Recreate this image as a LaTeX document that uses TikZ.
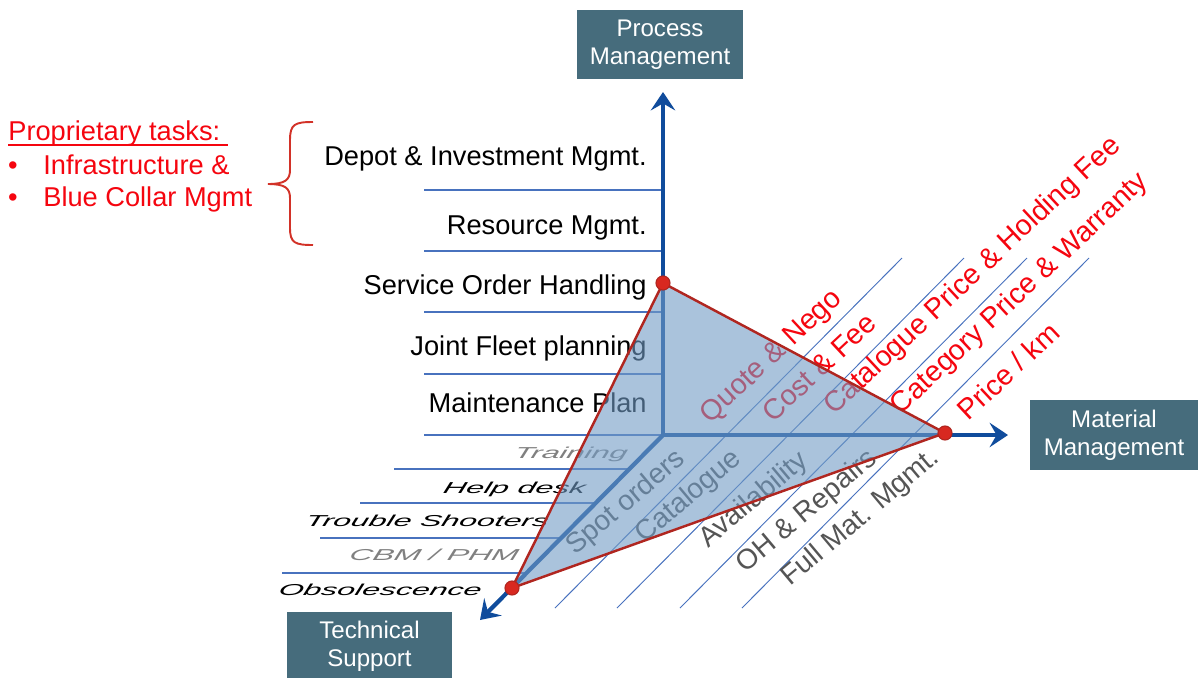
\documentclass[tikz,border=0pt]{standalone}
\usepackage{fontspec}
\setmainfont{Liberation Sans}
\usetikzlibrary{arrows.meta}
\definecolor{boxcol}{RGB}{70,108,124}
\definecolor{axisblue}{RGB}{16,76,156}
\definecolor{thinblue}{RGB}{72,114,190}
\definecolor{trifill}{RGB}{113,155,197}
\definecolor{edgered}{RGB}{176,38,32}
\definecolor{dotred}{RGB}{216,40,32}
\definecolor{txtred}{RGB}{245,5,15}
\definecolor{bracered}{RGB}{210,50,40}
\definecolor{txtgray}{RGB}{85,85,85}
\definecolor{lightgray}{RGB}{128,128,128}
\begin{document}
\begin{tikzpicture}[x=0.02cm,y=-0.02cm,
  axisbox/.style={fill=boxcol, text=white, font=\fontsize{13.7}{16}\selectfont, align=center, minimum width=3.32cm, minimum height=1.38cm, inner sep=0pt},
  lbl/.style={inner sep=0pt, font=\fontsize{15.5}{18}\selectfont},
  redrot/.style={inner sep=0pt, font=\fontsize{16.3}{18}\selectfont, text=txtred, rotate=43},
  grayrot/.style={inner sep=0pt, font=\fontsize{16}{18}\selectfont, text=txtgray, rotate=40},
  ital/.style={inner sep=0pt, font=\fontsize{9}{10}\selectfont\itshape, anchor=base east, xscale=2.02, xslant=0.12},
  gridline/.style={thinblue, line width=0.8pt},
  diagline/.style={thinblue, line width=0.55pt},
  axisline/.style={axisblue, line width=2.4pt, -{Stealth[length=10.5pt,width=14pt,inset=4pt]}},
  redge/.style={edgered, line width=1.4pt, line join=round},
  reddot/.style={circle, fill=dotred, draw=edgered, line width=0.6pt, minimum size=8pt, inner sep=0pt},
]
\useasboundingbox (0,0) rectangle (1198,677);
\coordinate (O) at (663,435);
\coordinate (tipUp) at (663,92);
\coordinate (tipRight) at (1008,435);
\coordinate (tipDown) at (480,620);
\coordinate (pA) at (663,283);
\coordinate (pB) at (945,433);
\coordinate (pC) at (512,588);

% grid lines
\foreach \yy in {190,251,312,374,435} \draw[gridline] (424,\yy) -- (663,\yy);
\draw[gridline] (394,469) -- (629,469);
\draw[gridline] (360,503) -- (596,503);
\draw[gridline] (320,538) -- (561,538);
\draw[gridline] (282,573) -- (527,573);
\foreach \xx in {555,617,680,742} \draw[diagline] (\xx,608) -- ++(347,-350);

% left labels
\node[lbl, anchor=base east] (l1) at (647,165) {Depot \& Investment Mgmt.};
\node[lbl, anchor=base east] (l2) at (647,234) {Resource Mgmt.};
\node[lbl, anchor=base east] (l3) at (647,294) {Service Order Handling};
\node[lbl, anchor=base east] (l4) at (647,355) {Joint Fleet planning};
\node[lbl, anchor=base east] (l5) at (647,412) {Maintenance Plan};

% italic labels
\node[ital, text=lightgray] (i1) at (627,458) {Training};
\node[ital] (i2) at (585,493) {Help desk};
\node[ital] (i3) at (548,526) {Trouble Shooters};
\node[ital, text=lightgray] (i4) at (518,560) {CBM / PHM};
\node[ital] (i5) at (481,595) {Obsolescence};

% red rotated labels
\node[redrot] (r1) at (772,357) {Quote \& Nego};
\node[redrot] (r2) at (819,367) {Cost \& Fee};
\node[redrot] (r3) at (973,276) {Catalogue Price \& Holding Fee};
\node[redrot] (r4) at (1020,294) {Category Price \& Warranty};
\node[redrot] (r5) at (1008,371) {Price / km};

% gray rotated labels
\node[grayrot] (g1) at (626,503) {Spot orders};
\node[grayrot] (g2) at (689,497) {Catalogue};
\node[grayrot] (g3) at (754,500) {Availability};
\node[grayrot] (g4) at (807,512) {OH \& Repairs};
\node[grayrot] (g5) at (861,518) {Full Mat. Mgmt.};

% axes
\draw[axisline] (O) -- (tipUp);
\draw[axisline] (O) -- (tipRight);
\draw[axisline] (O) -- (tipDown);

% triangle
\fill[trifill, fill opacity=0.6] (pA) -- (pB) -- (pC) -- cycle;
\draw[redge] (pA) -- (pB) -- (pC) -- cycle;
\node[reddot] (dA) at (pA) {};
\node[reddot] (dB) at (pB) {};
\node[reddot] (dC) at (pC) {};

% axis boxes
\node[axisbox] (pm) at (660,44.5) {Process\\Management};
\node[axisbox, minimum width=3.36cm, minimum height=1.4cm] (mm) at (1114,435) {Material\\Management};
\node[axisbox, minimum width=3.3cm] (ts) at (369.5,646.5) {Technical\\Support};

% brace
\draw[bracered, line width=1.1pt] (313,122) .. controls (295,122) and (290,124) .. (290,140) -- (290,170) .. controls (290,180) and (285,184) .. (268,184) .. controls (285,184) and (290,188) .. (290,198) -- (290,228) .. controls (290,243) and (295,245) .. (313,245);

% proprietary tasks
\node[lbl, text=txtred, anchor=base west] (pt) at (8,140) {Proprietary tasks:};
\draw[txtred, line width=0.9pt] ([yshift=-2.8pt]pt.base west) -- ([yshift=-2.8pt,xshift=4.5pt]pt.base east);
\node[lbl, text=txtred, anchor=base] (bu1) at (13,174) {•};
\node[lbl, text=txtred, anchor=base] (bu2) at (13,206) {•};
\node[lbl, text=txtred, anchor=base west] (it1) at (43,174) {Infrastructure \&};
\node[lbl, text=txtred, anchor=base west] (it2) at (43,206) {Blue Collar Mgmt};
\end{tikzpicture}
\end{document}
